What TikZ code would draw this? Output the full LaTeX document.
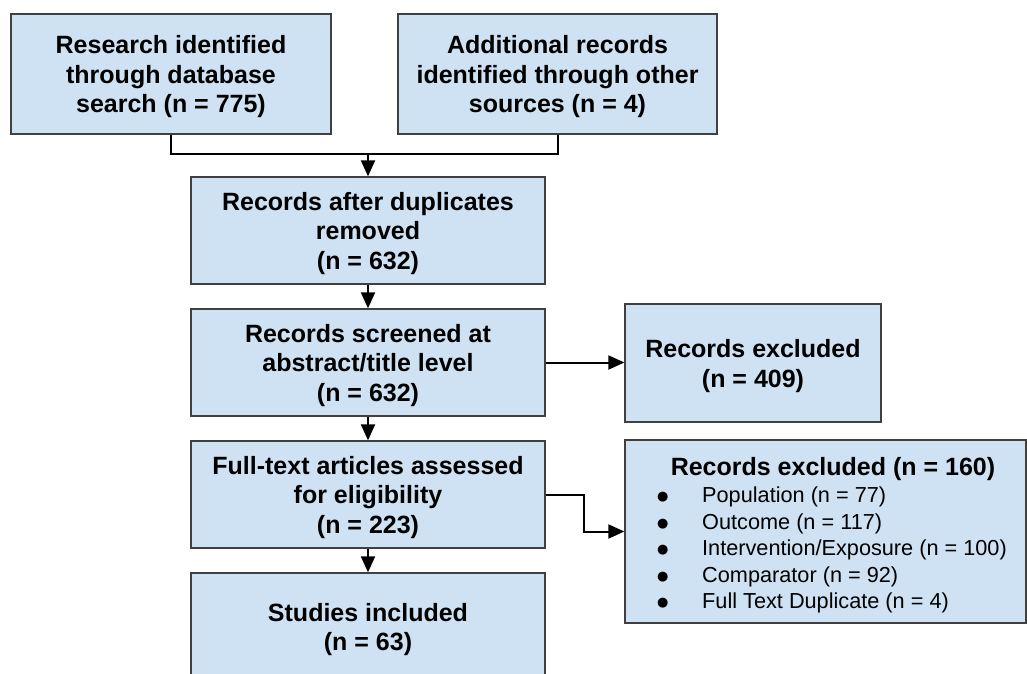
\documentclass[tikz,border=0pt]{standalone}
\usepackage{fontspec}
\setmainfont{Liberation Sans}
\newfontfamily\dvfont{DejaVu Sans}
\usetikzlibrary{arrows.meta}
\definecolor{boxfill}{HTML}{CFE2F3}
\definecolor{boxline}{HTML}{404040}
\newcommand{\blt}{\makebox[44pt][l]{\hspace*{-1pt}\raisebox{2.5pt}{\dvfont\fontsize{13}{13}\selectfont ●}}}
\tikzset{
  blk/.style={draw=boxline, fill=boxfill, line width=1.3pt, inner sep=0pt,
    align=center, font=\bfseries\fontsize{25}{29.5}\selectfont},
  three/.style={text height=83pt},
  two/.style={text height=53.5pt},
  conn/.style={draw=black, line width=2pt},
  arr/.style={conn, -{Triangle[length=16pt,width=14pt]}},
  item/.style={anchor=west, inner sep=0pt, font=\fontsize{21.7}{26}\selectfont},
}
\begin{document}
\begin{tikzpicture}[x=1pt,y=-1pt]
\useasboundingbox (0,0) rectangle (1027,673);
\begin{scope}
\clip (0,0) rectangle (1027,673);
\node[blk, three, minimum width=320pt, minimum height=120pt] (a) at (171,74)
  {Research identified\\through database\\search (n = 775)};
\node[blk, three, minimum width=319pt, minimum height=120pt] (b) at (557.5,74)
  {Additional records\\identified through other\\sources (n = 4)};
\node[blk, three, minimum width=354pt, minimum height=107pt] (c) at (368,230.5)
  {Records after duplicates\\removed\\(n = 632)};
\node[blk, three, minimum width=354pt, minimum height=107pt] (d) at (368,362.5)
  {Records screened at\\abstract/title level\\(n = 632)};
\node[blk, three, minimum width=354pt, minimum height=107pt] (e) at (368,494.5)
  {Full-text articles assessed\\for eligibility\\(n = 223)};
\node[blk, two, minimum width=354pt, minimum height=107pt] (f) at (368,626.5)
  {Studies included\\(n = 63)};
\node[blk, two, minimum width=256pt, minimum height=118pt] (g) at (753,363)
  {Records excluded\\(n = 409)};
\node[draw=boxline, fill=boxfill, line width=1.3pt, inner sep=0pt,
  minimum width=401pt, minimum height=183pt] (h) at (825.5,531.5) {};
\node[inner sep=0pt, font=\bfseries\fontsize{25}{29.5}\selectfont] (ht) at (833,469)
  {Records excluded (n = 160)};
\node[item] (i1) at (658,497) {\blt Population (n = 77)};
\node[item] (i2) at (658,524) {\blt Outcome (n = 117)};
\node[item] (i3) at (658,550) {\blt Intervention/Exposure (n = 100)};
\node[item] (i4) at (658,577) {\blt Comparator (n = 92)};
\node[item] (i5) at (658,603) {\blt Full Text Duplicate (n = 4)};

\coordinate (j) at (368,154);
\draw[conn] (a.south) |- (j) -| (b.south);
\draw[arr] (j) -- (c.north);
\draw[arr] (c.south) -- (d.north);
\draw[arr] (d.south) -- (e.north);
\draw[arr] (e.south) -- (f.north);
\draw[arr] (d.east) -- (d.east -| g.west);
\draw[arr] (e.east) -- ++(38,0) |- (h.west);
\end{scope}
\end{tikzpicture}
\end{document}
